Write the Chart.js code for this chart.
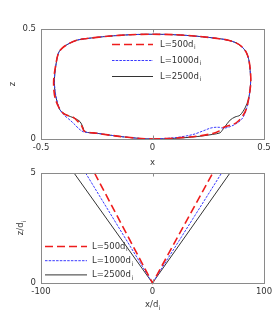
<!DOCTYPE html>
<html><head><meta charset="utf-8">
<script src="https://cdn.jsdelivr.net/npm/chart.js@4/dist/chart.umd.min.js"></script>
<style>
html,body{margin:0;padding:0;background:#fff;}
#w{position:relative;width:278px;height:313px;overflow:hidden;}
#c1{position:absolute;left:0;top:0;}
#c2{position:absolute;left:0;top:160px;}
</style></head><body>
<div id="w"><canvas id="c1" width="278" height="170"></canvas><canvas id="c2" width="278" height="153"></canvas></div>
<script>
// ---- data: top panel (x, z) ----
const seriesLabels = ['L=500d', 'L=1000d', 'L=2500d'];
const top_x_500 = [0,0.1,0.2,0.27,0.30,0.318,0.34,0.362,0.385,0.407,0.422,0.43,0.437,0.441,0.439,0.432,0.42,0.40,0.375,0.34,0.30,0.2,0.1,0,-0.1,-0.2,-0.3,-0.34,-0.378,-0.405,-0.422,-0.435,-0.443,-0.442,-0.435,-0.418,-0.40,-0.375,-0.355,-0.335,-0.318,-0.305,-0.25,-0.15,-0.05,0];
const top_z_500 = [0,0.004,0.013,0.025,0.037,0.052,0.06,0.066,0.082,0.109,0.14,0.177,0.22,0.26,0.31,0.36,0.395,0.42,0.437,0.449,0.456,0.467,0.474,0.476,0.474,0.467,0.456,0.449,0.432,0.413,0.39,0.33,0.27,0.22,0.18,0.14,0.117,0.105,0.098,0.08,0.06,0.035,0.026,0.012,0.002,0];
const top_x_1000 = [0,0.1,0.18,0.23,0.258,0.28,0.3,0.318,0.345,0.378,0.4,0.415,0.43,0.437,0.44,0.438,0.432,0.42,0.40,0.375,0.34,0.30,0.2,0.1,0,-0.1,-0.2,-0.3,-0.34,-0.378,-0.405,-0.422,-0.434,-0.44,-0.437,-0.43,-0.418,-0.40,-0.37,-0.345,-0.333,-0.31,-0.25,-0.15,-0.05,0];
const top_z_1000 = [0,0.006,0.02,0.038,0.049,0.053,0.053,0.049,0.055,0.071,0.09,0.117,0.17,0.22,0.26,0.31,0.36,0.395,0.42,0.437,0.449,0.456,0.467,0.474,0.476,0.474,0.467,0.456,0.449,0.432,0.413,0.39,0.33,0.27,0.22,0.18,0.14,0.112,0.086,0.062,0.049,0.033,0.026,0.012,0.002,0];
const top_x_2500 = [0,0.1,0.2,0.27,0.303,0.313,0.325,0.348,0.37,0.392,0.415,0.43,0.437,0.44,0.438,0.432,0.42,0.40,0.375,0.34,0.30,0.2,0.1,0,-0.1,-0.2,-0.3,-0.34,-0.378,-0.405,-0.422,-0.434,-0.44,-0.438,-0.43,-0.415,-0.385,-0.348,-0.325,-0.313,-0.303,-0.25,-0.15,-0.05,0];
const top_z_2500 = [0,0.003,0.011,0.021,0.028,0.04,0.056,0.086,0.1,0.108,0.141,0.18,0.22,0.26,0.31,0.36,0.395,0.42,0.437,0.449,0.456,0.467,0.474,0.476,0.474,0.467,0.456,0.449,0.432,0.413,0.39,0.33,0.27,0.22,0.177,0.132,0.109,0.094,0.079,0.056,0.033,0.026,0.012,0.002,0];
// ---- data: bottom panel (x/d_i, z/d_i) ----
const bot_x_500 = [-52, 0, 54];
const bot_x_1000 = [-60, 0, 62];
const bot_x_2500 = [-70.4, 0, 69.5];
const bot_z = [5, 0, 5];
// ---- ticks ----
const topXTicks = [-0.5, 0, 0.5];
const topZTicks = [0, 0.5];
const botXTicks = [-100, 0, 100];
const botZTicks = [0, 5];

const FONT = 'DejaVu Sans';
const styles = [
  {color:'#ee1c1c', dash:[8,4], width:1.6},
  {color:'#3a3aff', dash:[2.5,1.2], width:1},
  {color:'#333333', dash:[], width:1}
];
function pts(xs, zs){ return xs.map((x,i)=>({x:x, y:zs[i]})); }
function mkDatasets(list){
  return list.map((d,i)=>({
    label: seriesLabels[i], data: d, showLine:true, pointRadius:0,
    borderColor: styles[i].color, borderDash: styles[i].dash, borderWidth: styles[i].width,
    tension: d.length > 3 ? 0.3 : 0, fill:false, clip: 3
  }));
}
function subText(ctx, main, sub, x, y, size, align){
  ctx.font = size + 'px "' + FONT + '"';
  const w1 = ctx.measureText(main).width;
  ctx.font = (size*0.7) + 'px "' + FONT + '"';
  const w2 = ctx.measureText(sub).width;
  let x0 = x;
  if (align === 'center') x0 = x - (w1+w2)/2;
  ctx.textAlign = 'left'; ctx.textBaseline = 'middle';
  ctx.font = size + 'px "' + FONT + '"';
  ctx.fillText(main, x0, y);
  ctx.font = (size*0.7) + 'px "' + FONT + '"';
  ctx.fillText(sub, x0 + w1 + 0.5, y + size*0.4);
}
function framePlugin(cfg){
  return {
    id:'frame',
    afterDraw(chart){
      const ctx = chart.ctx, a = chart.chartArea;
      const xs = chart.scales.x, ys = chart.scales.y;
      ctx.save();
      ctx.strokeStyle = '#8a8a8a'; ctx.lineWidth = 1; ctx.setLineDash([]);
      ctx.strokeRect(Math.round(a.left)+0.5, Math.round(a.top)+0.5, Math.round(a.right-a.left), Math.round(a.bottom-a.top));
      ctx.beginPath();
      cfg.xt.forEach(v=>{ const p = Math.round(xs.getPixelForValue(v))+0.5;
        ctx.moveTo(p, a.bottom); ctx.lineTo(p, a.bottom-3.5);
        ctx.moveTo(p, a.top); ctx.lineTo(p, a.top+3.5); });
      cfg.yt.forEach(v=>{ const p = Math.round(ys.getPixelForValue(v))+0.5;
        ctx.moveTo(a.left, p); ctx.lineTo(a.left+3.5, p);
        ctx.moveTo(a.right, p); ctx.lineTo(a.right-3.5, p); });
      ctx.stroke();
      // axis titles
      ctx.fillStyle = '#333';
      const cx = (a.left + a.right)/2;
      if (cfg.xsub) subText(ctx, cfg.xt0, cfg.xsub, cx, cfg.xTitleY, 8.5, 'center');
      else { ctx.font = '8.5px "'+FONT+'"'; ctx.textAlign='center'; ctx.textBaseline='middle'; ctx.fillText(cfg.xt0, cx, cfg.xTitleY); }
      ctx.save();
      ctx.translate(cfg.yTitleX, cfg.yTitleY); ctx.rotate(-Math.PI/2);
      if (cfg.ysub) subText(ctx, cfg.yt0, cfg.ysub, 0, 0, 8.5, 'center');
      else { ctx.font = '8.5px "'+FONT+'"'; ctx.textAlign='center'; ctx.textBaseline='middle'; ctx.fillText(cfg.yt0, 0, 0); }
      ctx.restore();
      // legend
      const L = cfg.legend;
      chart.data.datasets.forEach((ds,i)=>{
        const y = L.y0 + i*L.dy + 0.5;
        ctx.beginPath(); ctx.strokeStyle = ds.borderColor; ctx.lineWidth = ds.borderWidth;
        ctx.setLineDash(ds.borderDash); ctx.moveTo(L.x0, y); ctx.lineTo(L.x1, y); ctx.stroke();
        ctx.setLineDash([]);
        ctx.fillStyle = '#333';
        subText(ctx, ds.label, 'i', L.tx, y, 8.5, 'left');
      });
      ctx.restore();
    }
  };
}
function mkChart(id, datasets, o){
  return new Chart(document.getElementById(id), {
    type:'scatter',
    data:{datasets: datasets},
    options:{
      responsive:false, animation:false, events:[],
      layout:{padding:{left:0, right:14, top:o.padTop, bottom:0}},
      plugins:{legend:{display:false}, tooltip:{enabled:false}},
      scales:{
        x:{type:'linear', min:o.xt[0], max:o.xt[o.xt.length-1],
           afterBuildTicks(s){ s.ticks = o.xt.map(v=>({value:v})); },
           afterFit(s){ s.height = o.xh; },
           grid:{display:false, drawTicks:false}, border:{display:false},
           ticks:{padding:4, color:'#333', font:{family:FONT, size:8.5}, maxRotation:0, autoSkip:false}},
        y:{type:'linear', min:o.yt[0], max:o.yt[o.yt.length-1],
           afterBuildTicks(s){ s.ticks = o.yt.map(v=>({value:v})); },
           afterFit(s){ s.width = 41; },
           grid:{display:false, drawTicks:false}, border:{display:false},
           ticks:{padding:5, color:'#333', font:{family:FONT, size:8.5}}}
      }
    },
    plugins:[framePlugin(o)]
  });
}
mkChart('c1', mkDatasets([pts(top_x_500,top_z_500), pts(top_x_1000,top_z_1000), pts(top_x_2500,top_z_2500)]), {
  padTop:29, xh:31, xt:topXTicks, yt:topZTicks,
  xt0:'x', xTitleY:163, yt0:'z', yTitleX:13, yTitleY:84,
  legend:{x0:112, x1:153, tx:160, y0:44, dy:16}
});
mkChart('c2', mkDatasets([pts(bot_x_500,bot_z), pts(bot_x_1000,bot_z), pts(bot_x_2500,bot_z)]), {
  padTop:13, xh:30, xt:botXTicks, yt:botZTicks,
  xt0:'x/d', xsub:'i', xTitleY:145, yt0:'z/d', ysub:'i', yTitleX:21, yTitleY:68,
  legend:{x0:45, x1:87, tx:92, y0:86, dy:14.2}
});
</script></body></html>
